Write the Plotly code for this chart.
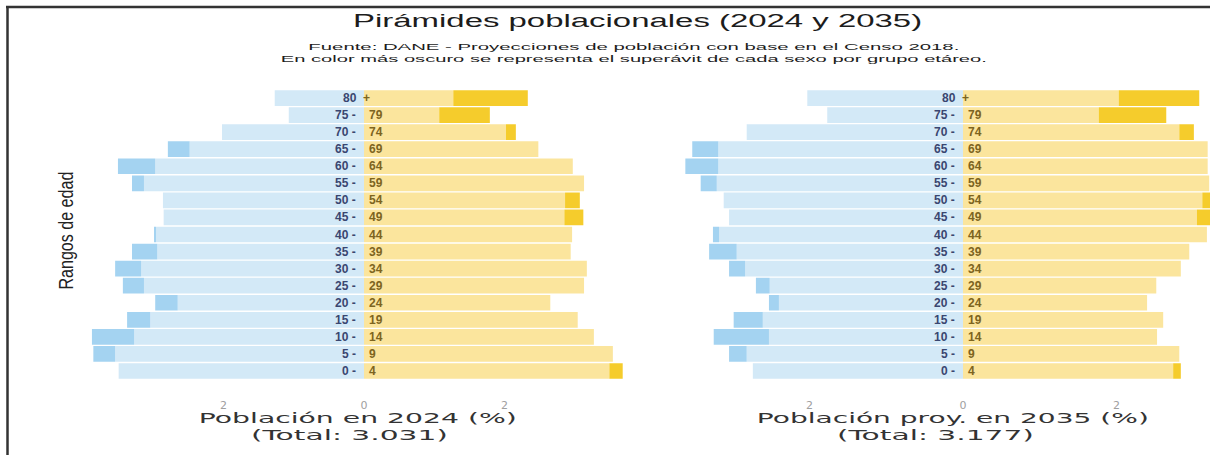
import json
import plotly.graph_objects as go

# ---------------- data ----------------
ages = ["0 - 4", "5 - 9", "10 - 14", "15 - 19", "20 - 24", "25 - 29", "30 - 34",
        "35 - 39", "40 - 44", "45 - 49", "50 - 54", "55 - 59", "60 - 64",
        "65 - 69", "70 - 74", "75 - 79", "80 +"]
age_left_part = ["0 -", "5 -", "10 -", "15 -", "20 -", "25 -", "30 -", "35 -", "40 -",
                 "45 -", "50 -", "55 -", "60 -", "65 -", "70 -", "75 -", "80"]
age_right_part = ["4", "9", "14", "19", "24", "29", "34", "39", "44",
                  "49", "54", "59", "64", "69", "74", "79", "+"]

# % of population (2024)
male_2024 = [3.49, 3.85, 3.87, 3.37, 2.97, 3.43, 3.54, 3.30, 2.98,
             2.85, 2.86, 3.30, 3.50, 2.79, 2.02, 1.07, 1.27]
female_2024 = [3.68, 3.54, 3.27, 3.04, 2.65, 3.13, 3.17, 2.94, 2.96,
               3.12, 3.07, 3.13, 2.97, 2.48, 2.16, 1.79, 2.33]
# % of population (2035 projection)
male_2035 = [2.74, 3.05, 3.25, 2.99, 2.53, 2.70, 3.05, 3.31, 3.26,
             3.05, 3.12, 3.42, 3.62, 3.53, 2.82, 1.77, 2.03]
female_2035 = [2.84, 2.82, 2.53, 2.61, 2.40, 2.52, 2.84, 2.95, 3.18,
               3.25, 3.30, 3.21, 3.19, 3.19, 3.01, 2.65, 3.08]

tick_vals = [-2, 0, 2]
tick_text = ["2", "0", "2"]

title_text = "Pirámides poblacionales (2024 y 2035)"
subtitle_1 = "Fuente: DANE - Proyecciones de población con base en el Censo 2018."
subtitle_2 = "En color más oscuro se representa el superávit de cada sexo por grupo etáreo."
xtitle_1a = "Población en 2024 (%)"
xtitle_1b = "(Total: 3.031)"
xtitle_2a = "Población proy. en 2035 (%)"
xtitle_2b = "(Total: 3.177)"
ytitle = "Rangos de edad"

# ---------------- layout helpers ----------------
W, H = 1210, 455


def px(x):
    return x / W


def py(y):
    return 1 - y / H


LIGHT_BLUE = "#d3e9f7"
DARK_BLUE = "#a4d3f1"
LIGHT_YEL = "#fbe59d"
DARK_YEL = "#f5cc2c"
NAVY = "#3a4670"
BROWN = "#7d6420"

fig = go.Figure()

for m, f, xa, ya in [(male_2024, female_2024, "x", "y"),
                     (male_2035, female_2035, "x2", "y2")]:
    common = [min(a, b) for a, b in zip(m, f)]
    m_extra = [a - c for a, c in zip(m, common)]
    f_extra = [b - c for b, c in zip(f, common)]
    for xs, col in [([-c for c in common], LIGHT_BLUE),
                    ([-e for e in m_extra], DARK_BLUE),
                    (common, LIGHT_YEL),
                    (f_extra, DARK_YEL)]:
        fig.add_trace(go.Bar(y=ages, x=xs, orientation="h", marker_color=col,
                             marker_line_width=0, xaxis=xa, yaxis=ya,
                             showlegend=False, hoverinfo="skip"))

y_dom = [py(396.6), py(89.5)]
xaxis_common = dict(tickvals=tick_vals, ticktext=tick_text,
                    tickfont=dict(family="DejaVu Sans", size=11, color="#a0a0a0"),
                    showgrid=False, zeroline=False, showline=False, ticks="")
yaxis_common = dict(domain=y_dom, range=[-1.5, 16.5], categoryorder="array",
                    categoryarray=ages, showticklabels=False, showgrid=False,
                    zeroline=False, showline=False, ticks="")

fig.update_layout(
    width=W, height=H,
    margin=dict(l=0, r=0, t=0, b=0),
    paper_bgcolor="white", plot_bgcolor="white",
    barmode="relative", bargap=0.08,
    xaxis=dict(domain=[px(85), px(640)], range=[(85 - 364) / 70.3, (640 - 364) / 70.3],
               anchor="y", **xaxis_common),
    yaxis=dict(anchor="x", **yaxis_common),
    xaxis2=dict(domain=[px(675), 1.0], range=[(675 - 963) / 76.7, (1210 - 963) / 76.7],
                anchor="y2", **xaxis_common),
    yaxis2=dict(anchor="x2", **yaxis_common),
    font=dict(family="Liberation Sans"),
)

# age labels in the middle of each pyramid
for xr, yr in [("x", "y"), ("x2", "y2")]:
    for a, lp, rp in zip(ages, age_left_part, age_right_part):
        fig.add_annotation(x=0, y=a, xref=xr, yref=yr, text=lp, showarrow=False,
                           xanchor="right", yanchor="middle",
                           xshift=-6 if lp != "80" else -5,
                           font=dict(family="Liberation Sans", size=12, color=NAVY,
                                     weight="bold"))
        fig.add_annotation(x=0, y=a, xref=xr, yref=yr, text=rp, showarrow=False,
                           xanchor="left", yanchor="middle",
                           xshift=3 if rp != "+" else -3,
                           font=dict(family="Liberation Sans", size=12, color=BROWN,
                                     weight="bold"))

# titles (text, x, y, size, family, colour)
targets = {}
texts = [
    (title_text, 637, 21, 18, "Liberation Sans", "#1c1c1c"),
    (xtitle_1a, 358, 418, 14, "DejaVu Sans", "#333333"),
    (xtitle_1b, 349, 435, 14, "DejaVu Sans", "#333333"),
    (xtitle_2a, 953, 418, 14, "DejaVu Sans", "#333333"),
    (xtitle_2b, 935, 435, 14, "DejaVu Sans", "#333333"),
]
widths = [569, 318, 197, 392, 197]
for (t, x, y, s, fam, col), w in zip(texts, widths):
    fig.add_annotation(x=px(x), y=py(y), xref="paper", yref="paper", text=t,
                       showarrow=False, xanchor="center", yanchor="middle",
                       font=dict(family=fam, size=s, color=col))
    targets[t] = w

# two-line subtitle
fig.add_annotation(x=px(634), y=py(53), xref="paper", yref="paper",
                   text=subtitle_1 + "<br>" + subtitle_2, showarrow=False,
                   xanchor="center", yanchor="middle", align="center",
                   font=dict(family="Liberation Sans", size=9, color="#1c1c1c"))
targets[subtitle_1] = 651
targets[subtitle_2] = 706

fig.add_annotation(x=px(66), y=py(231), xref="paper", yref="paper", text=ytitle,
                   showarrow=False, textangle=-90, xanchor="center", yanchor="middle",
                   font=dict(family="Liberation Sans", size=20, color="#222222"))
targets[ytitle] = 118

# outer frame (top and left edges of the scanned box)
fig.add_shape(type="line", xref="paper", yref="paper", x0=px(6), x1=1.0,
              y0=py(7), y1=py(7), line=dict(color="#333333", width=2.5))
fig.add_shape(type="line", xref="paper", yref="paper", x0=px(7.5), x1=px(7.5),
              y0=py(6), y1=0.0, line=dict(color="#333333", width=2.5))

post = """
(function(){
  document.body.style.margin = '0px';
  document.body.style.overflow = 'hidden';
  var T = %s;
  var els = document.querySelectorAll('.annotation-text, .annotation-text tspan.line');
  for (var i = 0; i < els.length; i++) {
    var e = els[i];
    var w = T[e.textContent];
    if (w) { e.setAttribute('textLength', w); e.setAttribute('lengthAdjust', 'spacingAndGlyphs'); }
  }
})();
""" % json.dumps(targets)

fig.write_html("out.html", post_script=post, config={"displayModeBar": False})
